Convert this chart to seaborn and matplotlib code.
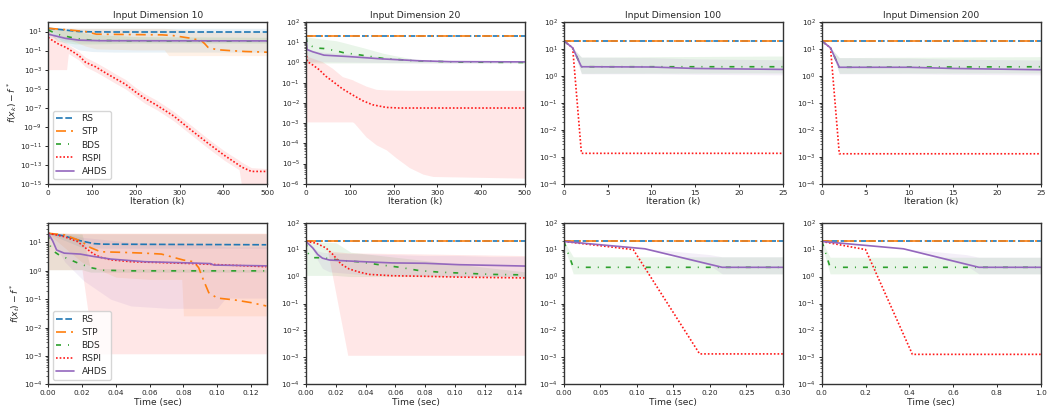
import matplotlib
matplotlib.use("Agg")
import matplotlib.pyplot as plt
import seaborn as sns

# ---------------- data ----------------
METHODS = ["RS", "STP", "BDS", "RSPI", "AHDS"]
TITLES = ["Input Dimension 10", "Input Dimension 20", "Input Dimension 100", "Input Dimension 200"]

# Panel A: dim 10, iterations
A_RS_x = [0, 30, 70, 100, 150, 500]
A_RS_y = [22, 16, 10, 9.3, 9.0, 9.0]
A_RS_bx = [0, 30, 70, 100, 150, 500]
A_RS_lo = [18, 1.0, 0.12, 0.08, 0.07, 0.07]
A_RS_hi = [24, 23, 22, 22, 22, 22]
A_STP_x = [0, 40, 85, 110, 260, 285, 325, 350, 358, 365, 385, 415, 450, 500]
A_STP_y = [22, 16, 10, 5.3, 4.5, 3.8, 2.0, 1.1, 0.5, 0.22, 0.125, 0.1, 0.08, 0.068]
A_STP_bx = [0, 40, 85, 110, 200, 265, 275, 360, 500]
A_STP_lo = [18, 2.0, 0.3, 0.15, 0.12, 0.12, 0.03, 0.03, 0.03]
A_STP_hi = [24, 23, 22, 22, 22, 22, 20, 10, 9]
A_BDS_x = [0, 20, 60, 100, 200, 500]
A_BDS_y = [15, 5.3, 2.0, 1.2, 1.05, 1.0]
A_BDS_bx = [0, 20, 60, 100, 200, 500]
A_BDS_lo = [10, 1.0, 0.5, 0.5, 0.6, 0.6]
A_BDS_hi = [20, 18, 12, 5, 3, 2.5]
A_RSPI_x = [0, 5, 23, 42, 46, 70, 85, 108, 131, 154, 177, 198, 220, 248, 287, 325, 364, 402, 436, 441, 464, 500]
A_RSPI_y = [2.5, 1.6, 0.5, 0.2, 0.15, 0.03, 6e-3, 2e-3, 4.5e-4, 1.1e-4, 2.8e-5, 5e-6, 1e-6, 1.8e-7,
            1.3e-8, 5e-10, 2e-11, 1e-12, 9e-14, 6e-14, 2e-14, 2e-14]
A_RSPI_bx = [0, 5, 23, 42, 46, 70, 85, 108, 131, 154, 177, 198, 220, 248, 287, 325, 364, 402, 436, 441, 464, 500]
A_RSPI_lo = [1e-3, 1e-3, 1e-3, 1e-3, 0.05, 0.01, 2e-3, 6e-4, 1.5e-4, 3.5e-5, 9e-6, 1.7e-6, 3e-7, 6e-8,
             4e-9, 1.6e-10, 6e-12, 3e-13, 3e-14, 1e-15, 1e-15, 1e-15]
A_RSPI_hi = [20, 8, 1.5, 0.6, 0.4, 0.08, 0.02, 6e-3, 1.5e-3, 3.5e-4, 9e-5, 1.5e-5, 3e-6, 6e-7,
             4e-8, 1.6e-9, 6e-11, 3e-12, 3e-13, 2e-13, 5e-14, 4e-14]
A_AHDS_x = [0, 40, 70, 120, 500]
A_AHDS_y = [5.3, 1.9, 1.26, 1.1, 1.05]
A_AHDS_bx = [0, 40, 70, 120, 500]
A_AHDS_lo = [3, 1.0, 0.85, 0.8, 0.8]
A_AHDS_hi = [10, 3, 1.8, 1.4, 1.3]

# Panel B: dim 20, iterations
B_RS_x = [0, 500]
B_RS_y = [21.5, 21.5]
B_STP_x = [0, 500]
B_STP_y = [21.5, 21.5]
B_BDS_x = [0, 3, 22, 41, 68, 87, 110, 133, 175, 202, 244, 290, 350, 500]
B_BDS_y = [18, 8, 5.2, 4.9, 3.8, 3.0, 2.6, 2.2, 1.6, 1.45, 1.23, 1.15, 1.05, 1.0]
B_BDS_bx = [0, 3, 22, 41, 68, 87, 110, 133, 175, 202, 244, 290, 350, 500]
B_BDS_lo = [1.0, 0.95, 0.95, 0.95, 0.95, 0.95, 0.95, 0.95, 0.95, 0.95, 0.95, 0.95, 0.95, 0.95]
B_BDS_hi = [18, 18, 16, 14, 12, 9.5, 7, 5.2, 2.9, 2.2, 1.5, 1.17, 1.1, 1.05]
B_RSPI_x = [0, 3, 15, 30, 45, 60, 83, 106, 129, 152, 183, 213, 500]
B_RSPI_y = [3.2, 1.1, 0.76, 0.44, 0.21, 0.12, 0.05, 0.025, 0.013, 8.1e-3, 6e-3, 5.6e-3, 5.6e-3]
B_RSPI_bx = [0, 3, 37, 60, 83, 106, 110, 137, 160, 183, 206, 236, 267, 290, 500]
B_RSPI_lo = [1.15e-3, 1.15e-3, 1.15e-3, 1.15e-3, 1.15e-3, 1.15e-3, 1e-3, 2.1e-4, 8.5e-5, 4.8e-5,
             1.9e-5, 6.3e-6, 3e-6, 2.3e-6, 1.9e-6]
B_RSPI_hi = [20, 2.0, 1.1, 0.52, 0.2, 0.14, 0.125, 0.068, 0.047, 0.044, 0.043, 0.042, 0.042, 0.042, 0.042]
B_AHDS_x = [0, 2, 15, 41, 99, 175, 252, 328, 500]
B_AHDS_y = [20, 4.4, 3.4, 2.3, 1.95, 1.5, 1.23, 1.1, 1.07]
B_AHDS_bx = [0, 2, 15, 41, 99, 175, 252, 328, 500]
B_AHDS_lo = [1.0, 1.1, 1.1, 1.1, 1.05, 1.0, 0.97, 0.95, 0.95]
B_AHDS_hi = [20, 5, 4, 3.2, 2.6, 1.9, 1.4, 1.2, 1.15]

# Panel C: dim 100, iterations
C_RS_x = [0, 25]
C_RS_y = [20, 20]
C_STP_x = [0, 25]
C_STP_y = [20, 20]
C_BDS_x = [0, 1, 2, 25]
C_BDS_y = [20, 11, 2.2, 2.2]
C_BDS_bx = [0, 1, 2, 25]
C_BDS_lo = [20, 11, 1.25, 1.3]
C_BDS_hi = [20, 11, 5.0, 5.5]
C_RSPI_x = [0, 1, 2, 25]
C_RSPI_y = [20, 11, 1.35e-3, 1.35e-3]
C_AHDS_x = [0, 1, 2, 10, 15, 25]
C_AHDS_y = [20, 11, 2.2, 2.15, 1.9, 1.75]
C_AHDS_bx = [0, 1, 2, 10, 15, 25]
C_AHDS_lo = [20, 11, 1.2, 1.2, 1.15, 1.1]
C_AHDS_hi = [20, 11, 5.0, 4.8, 4.3, 4.0]

# Panel D: dim 200, iterations
D_RS_x = [0, 25]
D_RS_y = [20, 20]
D_STP_x = [0, 25]
D_STP_y = [20, 20]
D_BDS_x = [0, 1, 2, 25]
D_BDS_y = [20, 11, 2.1, 2.2]
D_BDS_bx = [0, 1, 2, 25]
D_BDS_lo = [20, 11, 1.25, 1.3]
D_BDS_hi = [20, 11, 4.8, 5.2]
D_RSPI_x = [0, 1, 2, 25]
D_RSPI_y = [20, 11, 1.3e-3, 1.3e-3]
D_AHDS_x = [0, 1, 2, 10, 15, 25]
D_AHDS_y = [20, 11, 2.1, 2.1, 1.9, 1.7]
D_AHDS_bx = [0, 1, 2, 10, 15, 25]
D_AHDS_lo = [20, 11, 1.2, 1.2, 1.15, 1.1]
D_AHDS_hi = [20, 11, 4.8, 4.6, 4.2, 3.9]

# Panel E: dim 10, time
E_RS_x = [0, 0.0095, 0.019, 0.027, 0.033, 0.129]
E_RS_y = [21, 17, 11.5, 9.1, 8.7, 8.3]
E_RS_bx = [0, 0.0095, 0.019, 0.027, 0.033, 0.129]
E_RS_lo = [20, 12, 7, 6.5, 6.3, 6.3]
E_RS_hi = [22, 21, 20, 20, 20, 20]
E_STP_x = [0, 0.0095, 0.019, 0.025, 0.031, 0.043, 0.057, 0.067, 0.08, 0.086, 0.089, 0.092, 0.095,
           0.1, 0.11, 0.12, 0.129]
E_STP_y = [21, 18.6, 11.5, 6.6, 4.7, 4.5, 4.2, 3.9, 2.4, 2.1, 1.3, 0.45, 0.17, 0.11, 0.095, 0.076, 0.058]
E_STP_bx = [0, 0.02, 0.04, 0.06, 0.079, 0.08, 0.129]
E_STP_lo = [20, 2.0, 0.6, 0.5, 0.5, 0.026, 0.026]
E_STP_hi = [22, 21, 21, 21, 21, 21, 21]
E_BDS_x = [0, 0.001, 0.003, 0.0065, 0.0174, 0.025, 0.033, 0.05, 0.129]
E_BDS_y = [20, 8, 5, 3.6, 1.9, 1.3, 1.05, 1.0, 1.0]
E_BDS_bx = [0, 0.02, 0.025, 0.129]
E_BDS_lo = [1.1, 1.1, 0.9, 0.9]
E_BDS_hi = [20, 20, 1.2, 1.1]
E_RSPI_x = [0, 0.0095, 0.0174, 0.023, 0.027, 0.031, 0.037, 0.049, 0.067, 0.086, 0.106, 0.129]
E_RSPI_y = [21, 16, 10.7, 5.8, 3.9, 3.0, 2.45, 2.1, 1.95, 1.8, 1.6, 1.4]
E_RSPI_bx = [0, 0.02, 0.027, 0.129]
E_RSPI_lo = [1.1, 1.1, 1.2e-3, 1.2e-3]
E_RSPI_hi = [21, 21, 21, 21]
E_AHDS_x = [0, 0.0026, 0.005, 0.0095, 0.019, 0.027, 0.037, 0.057, 0.077, 0.096, 0.098, 0.129]
E_AHDS_y = [21, 11.5, 5.4, 4.2, 3.9, 3.2, 2.6, 2.1, 1.95, 1.8, 1.6, 1.5]
E_AHDS_bx = [0, 0.01, 0.021, 0.037, 0.049, 0.071, 0.1, 0.105, 0.129]
E_AHDS_lo = [20, 2.0, 0.45, 0.1, 0.058, 0.048, 0.048, 0.11, 0.11]
E_AHDS_hi = [22, 20, 15, 12, 10, 9, 8, 7, 7]

# Panel F: dim 20, time
F_RS_x = [0, 0.147]
F_RS_y = [20, 20]
F_STP_x = [0, 0.147]
F_STP_y = [20, 20]
F_BDS_x = [0, 0.001, 0.0045, 0.011, 0.023, 0.036, 0.049, 0.063, 0.076, 0.09, 0.103, 0.125, 0.147]
F_BDS_y = [20, 7.6, 5, 5, 4, 3.5, 2.75, 2.2, 1.66, 1.45, 1.35, 1.2, 1.15]
F_BDS_bx = [0, 0.02, 0.03, 0.147]
F_BDS_lo = [1.1, 1.1, 1.0, 1.0]
F_BDS_hi = [20, 18, 8, 1.5]
F_RSPI_x = [0, 0.0067, 0.0134, 0.018, 0.0235, 0.029, 0.036, 0.0425, 0.058, 0.08, 0.103, 0.147]
F_RSPI_y = [20, 17.4, 11.5, 6.6, 2.9, 1.9, 1.45, 1.2, 1.07, 1.02, 0.95, 0.89]
F_RSPI_bx = [0, 0.0145, 0.028, 0.147]
F_RSPI_lo = [20, 8.7, 1.2e-3, 1.2e-3]
F_RSPI_hi = [20, 9, 7.6, 6]
F_AHDS_x = [0, 0.0045, 0.0078, 0.011, 0.0157, 0.036, 0.058, 0.08, 0.103, 0.125, 0.147]
F_AHDS_y = [20, 11.5, 6.6, 4.8, 4.1, 3.6, 3.2, 3.1, 2.75, 2.6, 2.45]
F_AHDS_bx = [0, 0.0045, 0.0078, 0.011, 0.0157, 0.036, 0.058, 0.08, 0.103, 0.125, 0.147]
F_AHDS_lo = [20, 10, 4, 2, 1.5, 1.2, 1.1, 1.05, 1.0, 1.0, 1.0]
F_AHDS_hi = [20, 13, 9, 8, 7.5, 7, 6.5, 6, 6, 5.5, 5.5]

# Panel G: dim 100, time
G_RS_x = [0, 0.3]
G_RS_y = [20, 20]
G_STP_x = [0, 0.3]
G_STP_y = [20, 20]
G_BDS_x = [0, 0.003, 0.0128, 0.3]
G_BDS_y = [20, 12, 2.2, 2.2]
G_BDS_bx = [0, 0.003, 0.0128, 0.3]
G_BDS_lo = [20, 8, 1.26, 1.26]
G_BDS_hi = [20, 15, 5.4, 5.4]
G_RSPI_x = [0, 0.095, 0.186, 0.3]
G_RSPI_y = [20, 10, 1.35e-3, 1.35e-3]
G_AHDS_x = [0, 0.111, 0.217, 0.3]
G_AHDS_y = [20, 10.7, 2.2, 2.2]
G_AHDS_bx = [0, 0.111, 0.2, 0.217, 0.3]
G_AHDS_lo = [20, 10.7, 2.6, 1.26, 1.26]
G_AHDS_hi = [20, 11, 6.5, 5.4, 5.4]

# Panel H: dim 200, time
H_RS_x = [0, 1.0]
H_RS_y = [20, 20]
H_STP_x = [0, 1.0]
H_STP_y = [20, 20]
H_BDS_x = [0, 0.01, 0.038, 1.0]
H_BDS_y = [20, 12, 2.2, 2.2]
H_BDS_bx = [0, 0.01, 0.038, 1.0]
H_BDS_lo = [20, 8, 1.26, 1.26]
H_BDS_hi = [20, 15, 5.2, 5.2]
H_RSPI_x = [0, 0.2, 0.414, 1.0]
H_RSPI_y = [20, 10, 1.3e-3, 1.3e-3]
H_AHDS_x = [0, 0.373, 0.718, 1.0]
H_AHDS_y = [20, 10.7, 2.2, 2.2]
H_AHDS_bx = [0, 0.373, 0.66, 0.718, 1.0]
H_AHDS_lo = [20, 10.7, 2.6, 1.26, 1.26]
H_AHDS_hi = [20, 11, 6.5, 5.2, 5.2]

XLIMS = [(0, 500), (0, 500), (0, 25), (0, 25), (0, 0.1295), (0, 0.147), (0, 0.30), (0, 1.0)]
YLIMS = [(1e-15, 1e2), (1e-6, 1e2), (1e-4, 1e2), (1e-4, 1e2),
         (1e-4, 50), (1e-4, 1e2), (1e-4, 1e2), (1e-4, 1e2)]

# ---------------- style ----------------
sns.set_theme(style="ticks")
plt.rcParams.update({
    "font.family": ["DejaVu Sans"],
    "axes.edgecolor": "0.2",
    "axes.linewidth": 1.0,
    "xtick.labelsize": 5.3,
    "ytick.labelsize": 5.3,
    "xtick.major.size": 2.5,
    "ytick.major.size": 2.5,
    "xtick.minor.size": 1.5,
    "ytick.minor.size": 1.5,
    "xtick.major.width": 0.7,
    "ytick.major.width": 0.7,
    "ytick.minor.width": 0.5,
    "xtick.major.pad": 1.8,
    "ytick.major.pad": 1.8,
    "axes.labelsize": 6.6,
    "axes.titlesize": 6.6,
    "axes.labelpad": 1.2,
    "axes.titlepad": 3,
    "mathtext.fontset": "dejavusans",
})

COLORS = {"RS": "#1f77b4", "STP": "#ff7f0e", "BDS": "#2ca02c", "RSPI": "#ff1a1a", "AHDS": "#9467bd"}
STYLES = {"RS": (0, (4.0, 1.6)), "STP": (0, (6, 3, 1.2, 3)), "BDS": (0, (3, 4.2, 0.6, 4.2)),
          "RSPI": (0, (1, 1.2)), "AHDS": "-"}

g = globals()
fig, axes = plt.subplots(2, 4, figsize=(10.48, 4.16), dpi=100)
fig.subplots_adjust(left=0.046, right=0.993, top=0.947, bottom=0.076, wspace=0.178, hspace=0.24)

for idx, (ax, key) in enumerate(zip(axes.flat, "ABCDEFGH")):
    # bands first
    for m in METHODS:
        if f"{key}_{m}_bx" in g:
            ax.fill_between(g[f"{key}_{m}_bx"], g[f"{key}_{m}_lo"], g[f"{key}_{m}_hi"],
                            color=COLORS[m], alpha=0.1, lw=0)
    for m in METHODS:
        sns.lineplot(x=g[f"{key}_{m}_x"], y=g[f"{key}_{m}_y"], ax=ax, color=COLORS[m],
                     linestyle=STYLES[m], lw=1.2, label=m, legend=False, errorbar=None)
    ax.set_yscale("log")
    ax.set_xlim(*XLIMS[idx])
    ax.set_ylim(*YLIMS[idx])
    for s in ax.spines.values():
        s.set_visible(True)
    if idx == 0:
        ax.set_yticks([10.0 ** k for k in range(-15, 2, 2)])
    if idx < 4:
        ax.set_title(TITLES[idx])
        ax.set_xlabel("Iteration (k)")
    else:
        ax.set_xlabel("Time (sec)")
    if idx == 0:
        ax.set_ylabel(r"$f(x_k) - f^*$")
    if idx == 4:
        ax.set_ylabel(r"$f(x_t) - f^*$")
    if idx in (0, 4):
        ax.legend(loc="lower left", fontsize=6.5, frameon=True, fancybox=True,
                  framealpha=0.8, edgecolor="0.8", handlelength=2.0, labelspacing=0.45,
                  borderpad=0.4, handletextpad=0.8)

fig.savefig("out.png", dpi=100)
